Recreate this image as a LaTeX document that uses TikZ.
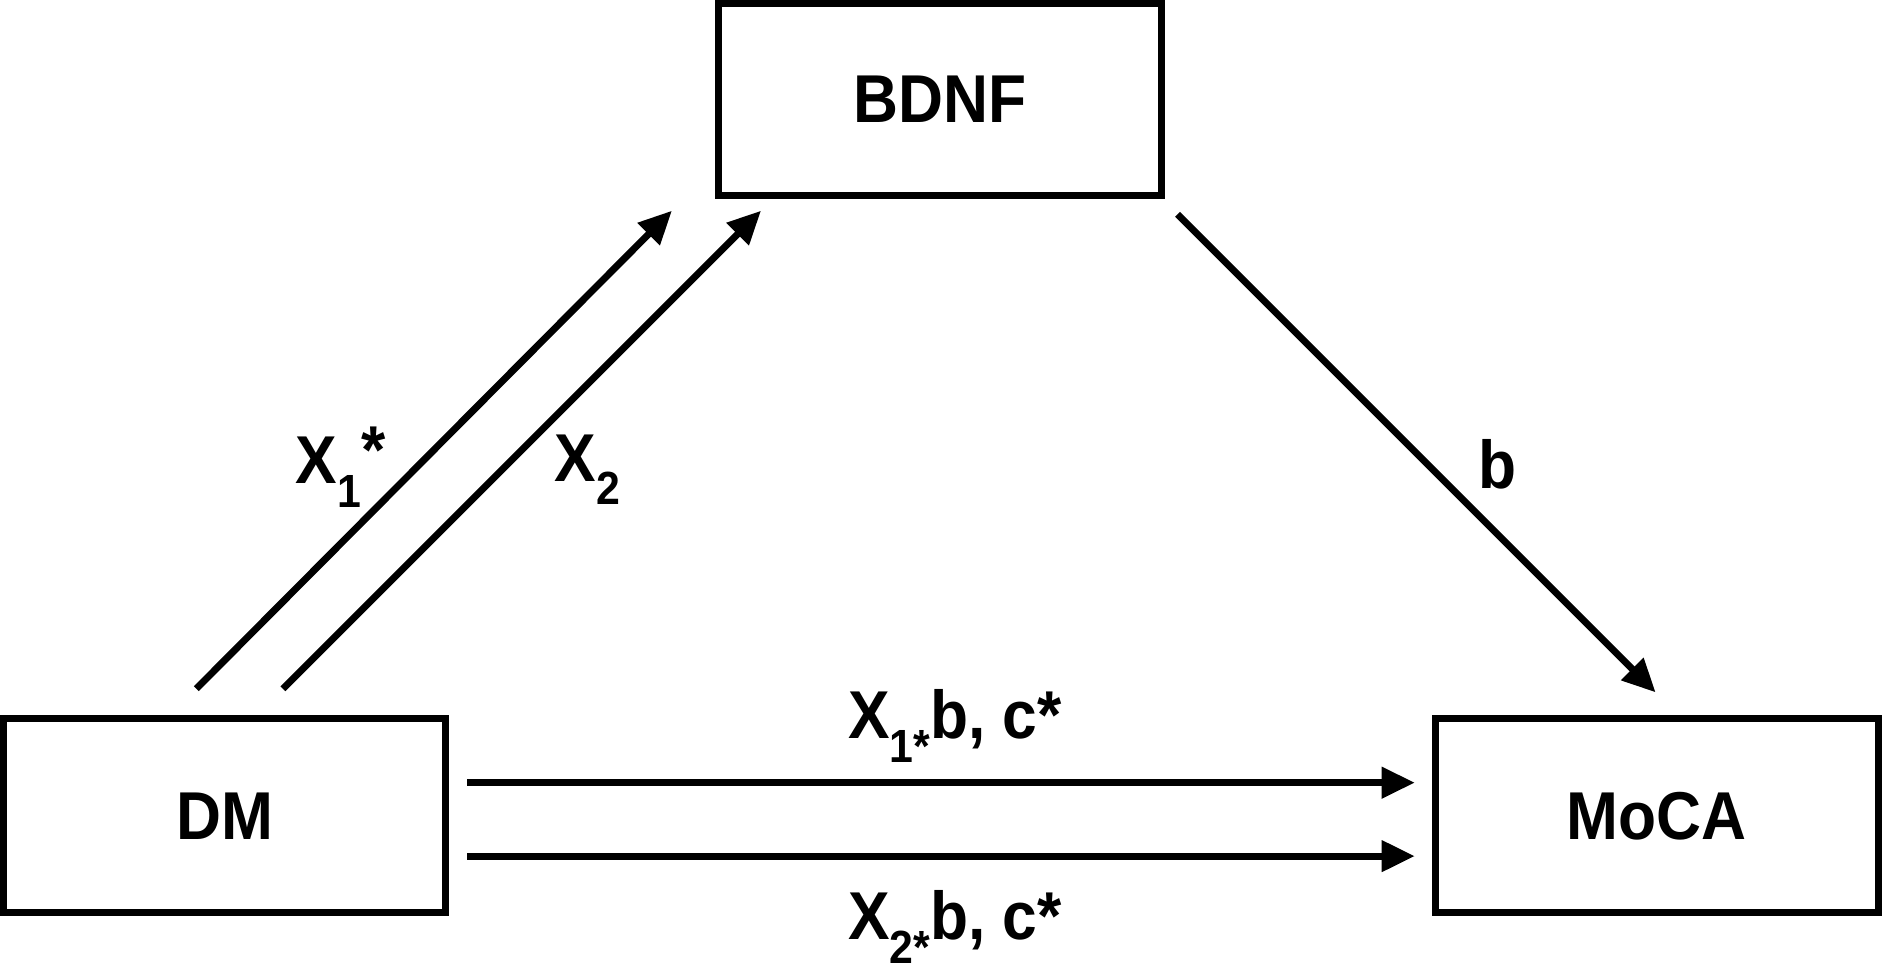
\documentclass[tikz,border=0pt]{standalone}
\usepackage{fontspec}
\setmainfont{Liberation Sans}
\usetikzlibrary{arrows.meta}
\newcommand{\lowtxt}[1]{\raisebox{-0.35em}{\fontsize{22}{24}\selectfont #1}}
\newcommand{\hitxt}[1]{\raisebox{0.15em}{#1}}
\newcommand{\cond}[1]{\scalebox{0.92}[1]{#1}}
\begin{document}
\begin{tikzpicture}[x=0.02cm,y=-0.02cm,
  box/.style={draw,line width=3.3pt,inner sep=0pt},
  arr/.style={line width=3.3pt,-{Triangle[length=0.55cm,width=0.5cm]}},
  lab/.style={font=\fontsize{32}{38}\selectfont\bfseries}]
\useasboundingbox (0,0) rectangle (1563,806);
\node[box,minimum width=368*0.02cm,minimum height=159*0.02cm,lab] (bdnf) at (781,82.5) {\cond{BDNF}};
\node[box,minimum width=367*0.02cm,minimum height=161*0.02cm,lab] (dm) at (186.5,677.5) {\cond{DM}};
\node[box,minimum width=368*0.02cm,minimum height=161*0.02cm,lab] (moca) at (1376,677.5) {\cond{MoCA}};
\coordinate (a1s) at (163,572); \coordinate (a1e) at (558,175);
\coordinate (a2s) at (235,572); \coordinate (a2e) at (632,175);
\coordinate (bs) at (978,178); \coordinate (be) at (1375,575);
\coordinate (h1s) at (388,650); \coordinate (h1e) at (1175,650);
\coordinate (h2s) at (388,711); \coordinate (h2e) at (1175,711);
\draw[arr] (a1s) -- (a1e);
\draw[arr] (a2s) -- (a2e);
\draw[arr] (bs) -- (be);
\draw[arr] (h1s) -- (h1e);
\draw[arr] (h2s) -- (h2e);
\node[lab] (l1) at (283,388) {\cond{X\lowtxt{1}\hitxt{*}}};
\node[lab] (l2) at (488,390) {\cond{X\lowtxt{2}}};
\node[lab] (lb) at (1244,386) {\cond{b}};
\node[lab] (l3) at (793,603) {\cond{X\lowtxt{1}\lowtxt{*}b, c*}};
\node[lab] (l4) at (793,770) {\cond{X\lowtxt{2}\lowtxt{*}b, c*}};
\end{tikzpicture}
\end{document}
